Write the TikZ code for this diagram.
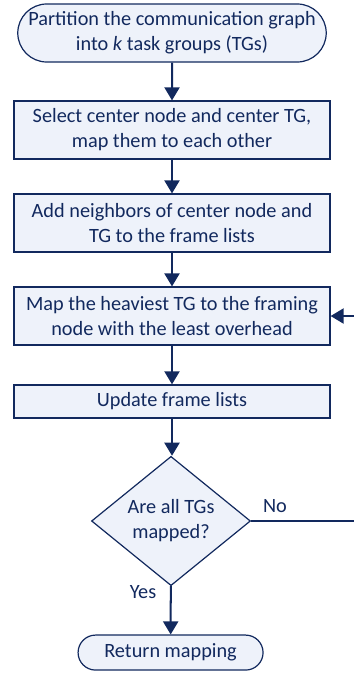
\documentclass[tikz,border=0pt]{standalone}
\usepackage{fontspec}
\setmainfont{Carlito}
\usetikzlibrary{arrows.meta,shapes.geometric,shapes.misc}
\definecolor{MapNavy}{HTML}{12295E}
\definecolor{MapPale}{HTML}{EEF2FA}

\begin{document}
\begin{tikzpicture}[
      >={Triangle[length=13pt,width=15pt]},
      flow/.style={->,line width=2pt,draw=MapNavy},
      stepbox/.style={draw=MapNavy,fill=MapPale,line width=1.2pt,
        minimum width=11.06cm,align=center,text=MapNavy,
        font=\fontsize{20.2}{25}\selectfont},
      term/.style={stepbox,rounded rectangle},
      lbl/.style={text=MapNavy,font=\fontsize{20.2}{25}\selectfont}
    ]
    \useasboundingbox (0,0) rectangle (12.39,-23.555);

    \node[term,minimum width=11.03cm,minimum height=2.03cm] (part)
      at (6.02,-1.155) {Partition the communication graph\\into \textit{k} task groups (TGs)};
    \node[stepbox,minimum height=2.03cm] (select) at (6.02,-4.55)
      {Select center node and center TG,\\map them to each other};
    \node[stepbox,minimum height=2.03cm] (addnb) at (6.02,-7.805)
      {Add neighbors of center node and\\TG to the frame lists};
    \node[stepbox,minimum height=2.03cm] (heavy) at (6.02,-11.06)
      {Map the heaviest TG to the framing\\node with the least overhead};
    \node[stepbox,minimum height=1.155cm] (update) at (6.02,-14.05)
      {Update frame lists};
    \node[stepbox,diamond,minimum width=5.565cm,minimum height=4.305cm,
      inner sep=0pt] (check) at (5.985,-18.235) {Are all TGs\\mapped?};
    \node[term,minimum width=6.475cm,minimum height=1.225cm,inner sep=0pt]
      (ret) at (5.97,-22.84) {Return mapping};

    \draw[flow] (part) -- (select);
    \draw[flow] (select) -- (addnb);
    \draw[flow] (addnb) -- (heavy);
    \draw[flow] (heavy) -- (update);
    \draw[flow] (update.south) -- (update.south |- check.north);
    \draw[flow] (check) -- (ret);

    % loop back, its right part lies outside the page
    \coordinate (back) at (13.2,-18.235);
    \draw[line width=2pt,draw=MapNavy] (check.east) -- (back);
    \draw[flow] (back) |- (heavy.east);

    \node[lbl] (no) at (9.625,-17.71) {No};
    \node[lbl] (yes) at (5.005,-20.72) {Yes};
  \end{tikzpicture}
\end{document}
